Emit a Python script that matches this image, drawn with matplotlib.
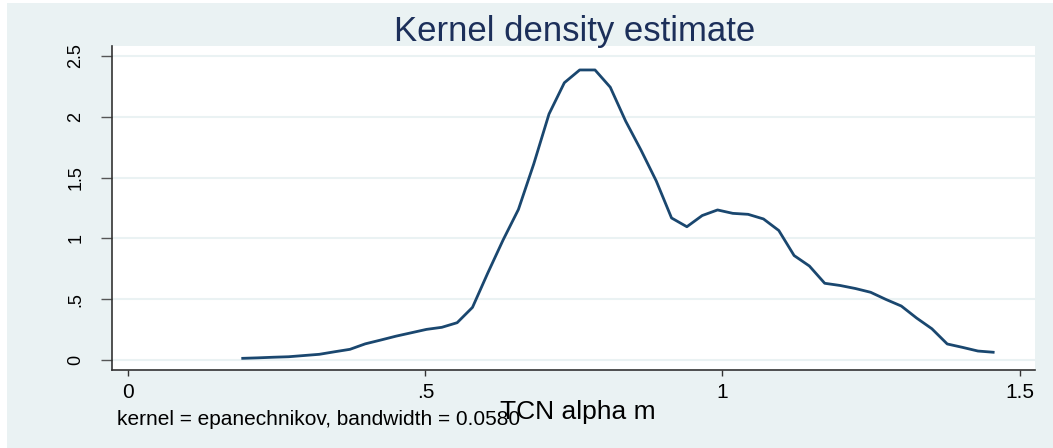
import matplotlib
matplotlib.use("Agg")
import matplotlib.pyplot as plt
from matplotlib.patches import Rectangle

# density estimate (50 evaluation points)
alpha_m = [0.1926, 0.2184, 0.2442, 0.2699, 0.2957, 0.3215, 0.3473, 0.3731, 0.3988, 0.4246,
           0.4504, 0.4762, 0.5019, 0.5277, 0.5535, 0.5793, 0.6050, 0.6308, 0.6566, 0.6824,
           0.7081, 0.7339, 0.7597, 0.7855, 0.8112, 0.8370, 0.8628, 0.8886, 0.9143, 0.9401,
           0.9659, 0.9917, 1.0174, 1.0432, 1.0690, 1.0948, 1.1206, 1.1463, 1.1721, 1.1979,
           1.2237, 1.2494, 1.2752, 1.3010, 1.3268, 1.3525, 1.3783, 1.4041, 1.4299, 1.4556]
density = [0.014, 0.018, 0.023, 0.027, 0.037, 0.047, 0.068, 0.088, 0.133, 0.164,
           0.196, 0.224, 0.252, 0.269, 0.307, 0.433, 0.715, 0.987, 1.238, 1.612,
           2.023, 2.280, 2.385, 2.385, 2.243, 1.965, 1.727, 1.472, 1.168, 1.096,
           1.188, 1.234, 1.206, 1.198, 1.160, 1.065, 0.859, 0.773, 0.631, 0.613,
           0.588, 0.557, 0.498, 0.444, 0.345, 0.257, 0.132, 0.104, 0.074, 0.064]

xticks = [0, 0.5, 1, 1.5]
xticklabels = ["0", ".5", "1", "1.5"]
yticks = [0, 0.5, 1, 1.5, 2, 2.5]
yticklabels = ["0", ".5", "1", "1.5", "2", "2.5"]

bg = "#eaf2f3"
navy = "#1a476f"
W, H = 1053, 448

plt.rcParams["font.family"] = ["Liberation Sans", "DejaVu Sans"]

fig = plt.figure(figsize=(W / 100, H / 100), dpi=100, facecolor="white")
fig.patches.append(Rectangle((7 / W, 0), 1 - 7 / W, 1 - 3 / H, transform=fig.transFigure,
                             facecolor=bg, edgecolor="none", zorder=-10))

ax = fig.add_axes([112 / W, (H - 370) / H, (1035 - 112) / W, (370 - 46) / H])
ax.set_facecolor("white")
ax.plot(alpha_m, density, color=navy, linewidth=2)

ax.set_xlim(-0.0274, 1.526)
ax.set_ylim(-0.082, 2.582)
ax.set_xticks(xticks)
ax.set_xticklabels(xticklabels, fontsize=15)
ax.set_yticks(yticks)
ax.set_yticklabels(yticklabels, fontsize=13, rotation=90, va="center")
ax.tick_params(axis="x", length=4.3, width=1, color="#333333", pad=5)
ax.tick_params(axis="y", length=7.9, width=1, color="#555555", pad=12)
ax.grid(axis="y", color=bg, linewidth=1.5)
ax.set_axisbelow(True)

for side in ["top", "right"]:
    ax.spines[side].set_visible(False)
for side in ["left", "bottom"]:
    ax.spines[side].set_color("#333333")
    ax.spines[side].set_linewidth(1.2)

fig.text(575 / W, 1 - 32 / H, "Kernel density estimate", ha="center", va="center",
         fontsize=25, color="#1c2f5a")
fig.text(578 / W, 1 - 412 / H, "TCN alpha m", ha="center", va="center", fontsize=19)
fig.text(117 / W, 1 - 419 / H, "kernel = epanechnikov, bandwidth = 0.0580",
         ha="left", va="center", fontsize=15)

fig.savefig("out.png", dpi=100, facecolor=fig.get_facecolor())
